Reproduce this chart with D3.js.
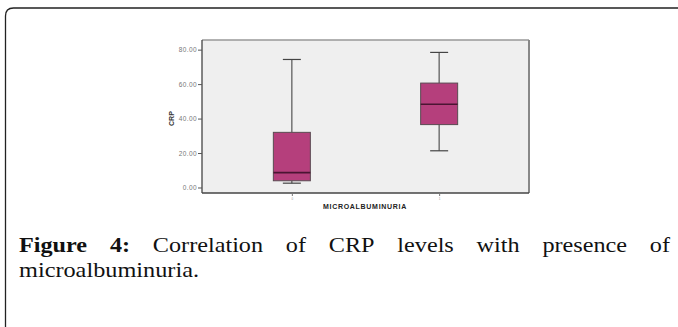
<!DOCTYPE html>
<html>
<head>
<meta charset="utf-8">
<script src="https://cdn.jsdelivr.net/npm/d3@7"></script>
<style>
  body { margin: 0; background: #fff; }
  svg { display: block; }
</style>
</head>
<body>
<div id="chart"></div>
<script>
// groups and five-number summaries
const groups = ['0', '1'];
const whiskerLow = [2.5, 21.3];
const q1 = [3.9, 36.5];
const median = [8.6, 48.3];
const q3 = [32.0, 60.6];
const whiskerHigh = [74.3, 78.4];
const yTicks = [0, 20, 40, 60, 80];

const W = 678, H = 327;
const margin = { left: 202, top: 40, right: 149, bottom: 134 };
const plotW = W - margin.left - margin.right;   // 327
const plotH = H - margin.top - margin.bottom;   // 153

const svg = d3.select('#chart').append('svg')
  .attr('width', W)
  .attr('height', H);

// outer figure frame (rounded top-left, runs off the page right and bottom)
svg.append('path')
  .attr('d', `M5.5,${H + 5} L5.5,16 Q5.5,8 13.5,8 L${W + 5},8`)
  .attr('fill', 'none')
  .attr('stroke', '#222')
  .attr('stroke-width', 1.3);

const data = groups.map((g, i) => ({
  g, lo: whiskerLow[i], q1: q1[i], med: median[i], q3: q3[i], hi: whiskerHigh[i]
}));

// scales
const x = d3.scalePoint().domain(groups).range([0, plotW]).padding(0.61);
const y = d3.scaleLinear().domain([-3.2, 85.6]).range([plotH, 0]);

const chart = svg.append('g')
  .attr('transform', `translate(${margin.left}, ${margin.top})`);

// plot background + frame
chart.append('rect')
  .attr('width', plotW).attr('height', plotH)
  .attr('fill', '#efefef');
chart.append('line').attr('x1', 0).attr('x2', plotW).attr('y1', 0).attr('y2', 0)
  .attr('stroke', '#999').attr('stroke-width', 1.5);
chart.append('line').attr('x1', plotW).attr('x2', plotW).attr('y1', 0).attr('y2', plotH)
  .attr('stroke', '#888').attr('stroke-width', 2);
chart.append('line').attr('x1', 0).attr('x2', 0).attr('y1', 0).attr('y2', plotH)
  .attr('stroke', '#444').attr('stroke-width', 1.3);
chart.append('line').attr('x1', 0).attr('x2', plotW).attr('y1', plotH).attr('y2', plotH)
  .attr('stroke', '#444').attr('stroke-width', 1.5);

// y axis
const yAxis = chart.append('g')
  .attr('class', 'axis axis-y')
  .call(d3.axisLeft(y).tickValues(yTicks).tickSize(4).tickFormat(d3.format('.2f')));
yAxis.select('.domain').remove();
yAxis.selectAll('line').attr('stroke', '#555');
yAxis.selectAll('text')
  .attr('fill', '#777')
  .attr('x', -5)
  .style('font-family', 'Liberation Sans, Arial, sans-serif')
  .style('font-size', '6.5px')
  .style('letter-spacing', '0.4px');

// x axis
const xAxis = chart.append('g')
  .attr('class', 'axis axis-x')
  .attr('transform', `translate(0, ${plotH})`)
  .call(d3.axisBottom(x).tickSize(3));
xAxis.select('.domain').remove();
xAxis.selectAll('line').attr('stroke', '#777');
xAxis.selectAll('text')
  .attr('fill', '#999')
  .attr('dy', '0.2em')
  .style('font-family', 'Liberation Sans, Arial, sans-serif')
  .style('font-size', '3px');

// axis titles
svg.append('text')
  .attr('x', 365)
  .attr('y', 209)
  .attr('text-anchor', 'middle')
  .attr('fill', '#222')
  .style('font-family', 'Liberation Sans, Arial, sans-serif')
  .style('font-weight', 'bold')
  .style('font-size', '7px')
  .style('letter-spacing', '0.7px')
  .text('MICROALBUMINURIA');

svg.append('text')
  .attr('transform', `translate(174, ${margin.top + y(40)}) rotate(-90)`)
  .attr('text-anchor', 'middle')
  .attr('fill', '#333')
  .style('font-family', 'Liberation Sans, Arial, sans-serif')
  .style('font-weight', 'bold')
  .style('font-size', '7px')
  .text('CRP');

// boxes
const boxW = 37, capW = 18;
const box = chart.selectAll('.box').data(data).enter().append('g')
  .attr('class', 'box')
  .attr('transform', d => `translate(${x(d.g)}, 0)`);

box.append('line')
  .attr('y1', d => y(d.hi)).attr('y2', d => y(d.q3))
  .attr('stroke', '#555').attr('stroke-width', 1.2);
box.append('line')
  .attr('y1', d => y(d.q1)).attr('y2', d => y(d.lo))
  .attr('stroke', '#555').attr('stroke-width', 1.2);
box.append('line')
  .attr('x1', -capW / 2).attr('x2', capW / 2)
  .attr('y1', d => y(d.hi)).attr('y2', d => y(d.hi))
  .attr('stroke', '#444').attr('stroke-width', 1.2);
box.append('line')
  .attr('x1', -capW / 2).attr('x2', capW / 2)
  .attr('y1', d => y(d.lo)).attr('y2', d => y(d.lo))
  .attr('stroke', '#444').attr('stroke-width', 1.2);
box.append('rect')
  .attr('x', -boxW / 2).attr('width', boxW)
  .attr('y', d => y(d.q3))
  .attr('height', d => y(d.q1) - y(d.q3))
  .attr('fill', '#b53f7c')
  .attr('stroke', '#5a4a52').attr('stroke-width', 1);
box.append('line')
  .attr('x1', -boxW / 2).attr('x2', boxW / 2)
  .attr('y1', d => y(d.med)).attr('y2', d => y(d.med))
  .attr('stroke', '#4a1532').attr('stroke-width', 1.6);

// caption, justified across the first line
const capFont = 'Liberation Serif, Times New Roman, serif';
const line1 = [['Figure', true], ['4:', true], ['Correlation', false], ['of', false],
  ['CRP', false], ['levels', false], ['with', false], ['presence', false], ['of', false]];
const left = 19, right = 670, base1 = 252, base2 = 277;

const words = svg.selectAll('.capword').data(line1).enter().append('text')
  .attr('class', 'capword')
  .attr('y', base1)
  .attr('fill', '#111')
  .style('font-family', capFont)
  .style('font-size', '22px')
  .style('font-weight', d => d[1] ? 'bold' : 'normal')
  .attr('textLength', d => d[1] ? null : null)
  .text(d => d[0]);
// stretch glyphs a little, the original face is wider than Times
words.each(function () {
  const w = this.getComputedTextLength();
  d3.select(this).attr('textLength', w * 1.1).attr('lengthAdjust', 'spacingAndGlyphs');
});
const widths = [];
words.each(function () { widths.push(+this.getAttribute('textLength')); });
const gap = (right - left - d3.sum(widths)) / (line1.length - 1);
let cx = left;
words.attr('x', (d, i) => { const v = cx; cx += widths[i] + gap; return v; });

svg.append('text')
  .attr('x', left).attr('y', base2)
  .attr('fill', '#111')
  .attr('textLength', 180)
  .attr('lengthAdjust', 'spacingAndGlyphs')
  .style('font-family', capFont)
  .style('font-size', '22px')
  .text('microalbuminuria.');
</script>
</body>
</html>
